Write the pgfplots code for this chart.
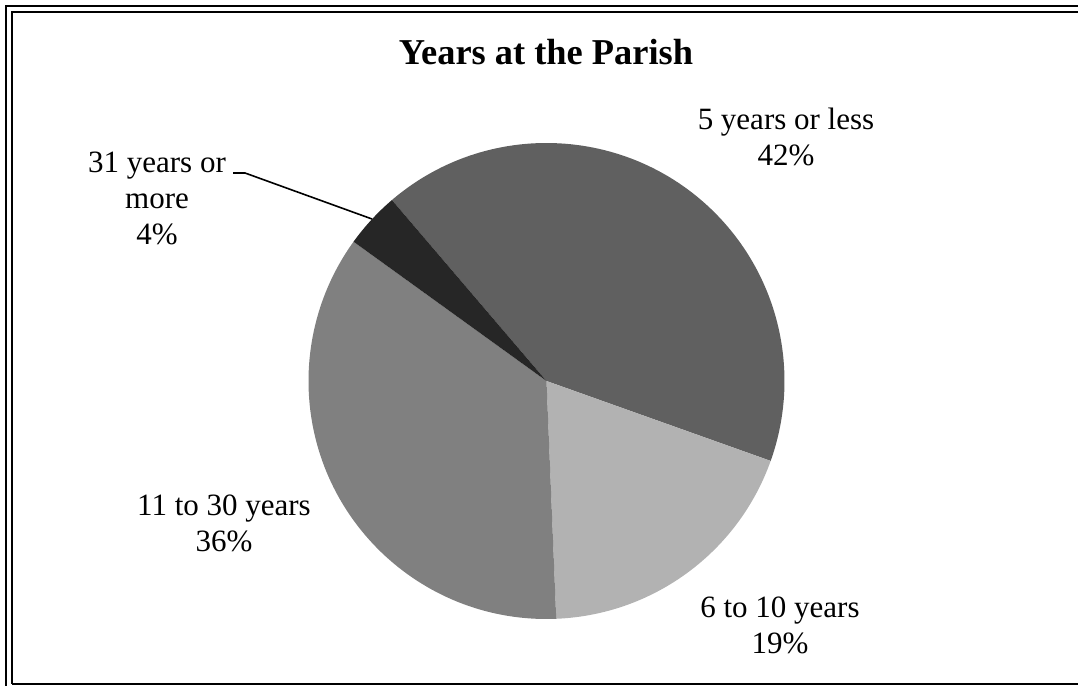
\documentclass[border=0pt]{standalone}
\usepackage{pgfplots}
\pgfplotsset{compat=1.18}
\usepackage{pgfplotstable}
\usepackage{fontspec}
\setmainfont{Liberation Serif}
\definecolor{cA}{RGB}{96,96,96}
\definecolor{cB}{RGB}{178,178,178}
\definecolor{cC}{RGB}{128,128,128}
\definecolor{cD}{RGB}{38,38,38}
\pgfplotstableread{
label v
a 41.7
b 18.9
c 35.6
d 3.8
}\pietable
\begin{document}%
\begin{tikzpicture}
\pgfplotstablegetelem{0}{v}\of\pietable \let\va\pgfplotsretval
\pgfplotstablegetelem{1}{v}\of\pietable \let\vb\pgfplotsretval
\pgfplotstablegetelem{2}{v}\of\pietable \let\vc\pgfplotsretval
\pgfplotstablegetelem{3}{v}\of\pietable \let\vd\pgfplotsretval
\pgfmathsetmacro\aZ{130.5}
\pgfmathsetmacro\aA{\aZ-3.6*\va}
\pgfmathsetmacro\aB{\aA-3.6*\vb}
\pgfmathsetmacro\aC{\aB-3.6*\vc}
\pgfmathsetmacro\aD{\aC-3.6*\vd}
\begin{axis}[
  at={(0,0)}, anchor=south west,
  scale only axis, width=539pt, height=343pt,
  xmin=0, xmax=1078, ymin=0, ymax=686,
  hide axis, clip=false,
]
% pie slices
\fill[cA] (axis cs:546.5,305) -- ++(\aZ:119pt) arc[start angle=\aZ, end angle=\aA, radius=119pt] -- cycle;
\fill[cB] (axis cs:546.5,305) -- ++(\aA:119pt) arc[start angle=\aA, end angle=\aB, radius=119pt] -- cycle;
\fill[cC] (axis cs:546.5,305) -- ++(\aB:119pt) arc[start angle=\aB, end angle=\aC, radius=119pt] -- cycle;
\fill[cD] (axis cs:546.5,305) -- ++(\aC:119pt) arc[start angle=\aC, end angle=\aD, radius=119pt] -- cycle;
% frame
\draw[line width=1.2pt] (axis cs:6,-10) -- (axis cs:6,680) -- (axis cs:1090,680);
\draw[line width=1.2pt] (axis cs:12,2) -- (axis cs:12,674) -- (axis cs:1090,674);
\draw[line width=1.2pt] (axis cs:12,2) -- (axis cs:1090,2);
% leader
\draw[line width=0.8pt] (axis cs:233,513) -- (axis cs:245,513) -- (axis cs:372,467);
% title
\node[anchor=base, font=\fontsize{18.2}{21}\selectfont\bfseries] at (axis cs:546,621) {Years at the Parish};
% labels
\newcommand{\lf}{\fontsize{15.5}{18}\selectfont}
\node[anchor=base, font=\lf] at (axis cs:786,556) {5 years or less};
\node[anchor=base, font=\lf] at (axis cs:786,520) {42\%};
\node[anchor=base, font=\lf] at (axis cs:157,513) {31 years or};
\node[anchor=base, font=\lf] at (axis cs:157,477) {more};
\node[anchor=base, font=\lf] at (axis cs:157,441) {4\%};
\node[anchor=base, font=\lf] at (axis cs:224,170) {11 to 30 years};
\node[anchor=base, font=\lf] at (axis cs:224,134) {36\%};
\node[anchor=base, font=\lf] at (axis cs:780,68) {6 to 10 years};
\node[anchor=base, font=\lf] at (axis cs:780,32) {19\%};
\end{axis}
\pgfresetboundingbox
\useasboundingbox (0,0) rectangle (539pt,343pt);
\end{tikzpicture}%
\end{document}
